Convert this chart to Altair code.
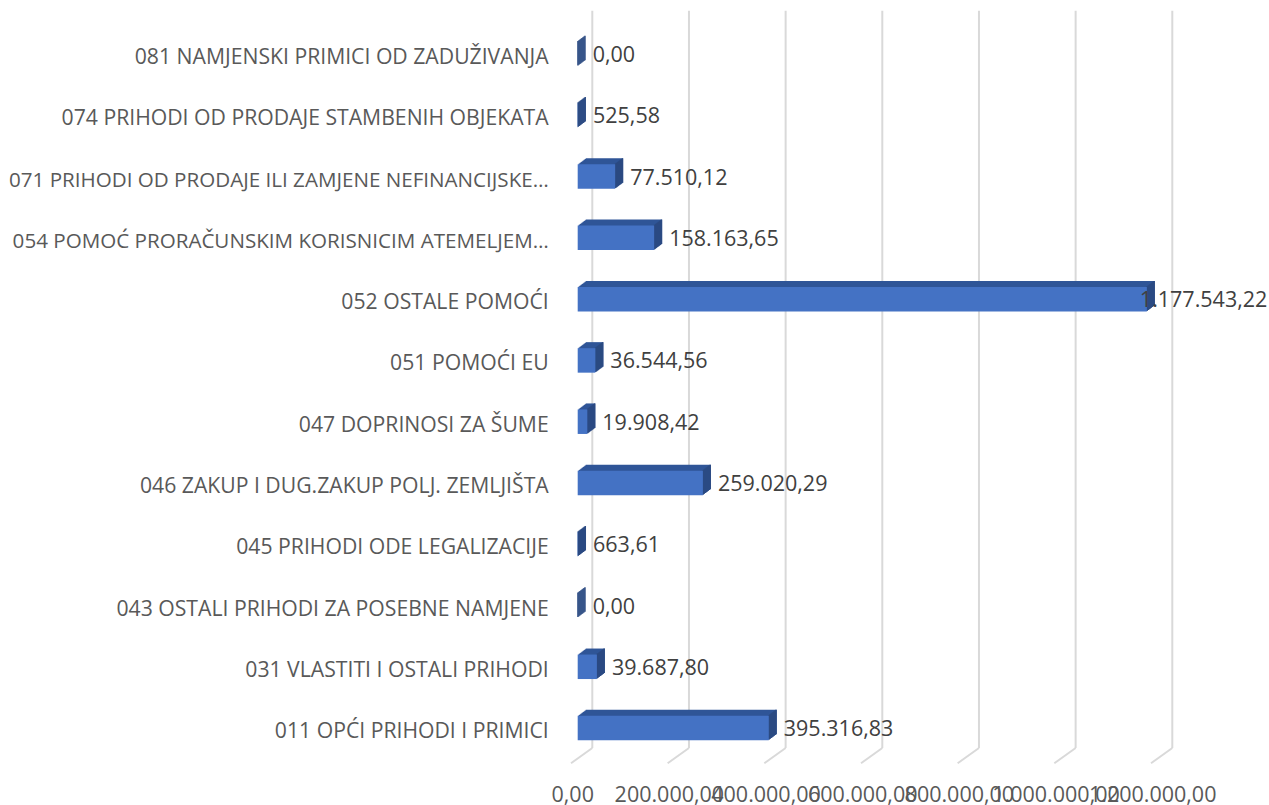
import altair as alt
import pandas as pd

categories = [
    "081 NAMJENSKI PRIMICI OD ZADUŽIVANJA",
    "074 PRIHODI OD PRODAJE STAMBENIH OBJEKATA",
    "071 PRIHODI OD PRODAJE ILI ZAMJENE NEFINANCIJSKE…",
    "054 POMOĆ PRORAČUNSKIM KORISNICIM ATEMELJEM…",
    "052 OSTALE POMOĆI",
    "051 POMOĆI EU",
    "047 DOPRINOSI ZA ŠUME",
    "046 ZAKUP I DUG.ZAKUP POLJ. ZEMLJIŠTA",
    "045 PRIHODI ODE LEGALIZACIJE",
    "043 OSTALI PRIHODI ZA POSEBNE NAMJENE",
    "031 VLASTITI I OSTALI PRIHODI",
    "011 OPĆI PRIHODI I PRIMICI",
]
values = [0.00, 525.58, 77510.12, 158163.65, 1177543.22, 36544.56,
          19908.42, 259020.29, 663.61, 0.00, 39687.80, 395316.83]

tick_values = [0, 200000, 400000, 600000, 800000, 1000000, 1200000]
tick_labels = ["0,00", "200.000,00", "400.000,00", "600.000,00",
               "800.000,00", "1.000.000,00", "1.200.000,00"]


def hr(v):
    s = f"{v:,.2f}"
    return s.replace(",", "_").replace(".", ",").replace("_", ".")


df = pd.DataFrame({"cat": categories, "value": values,
                   "label": [hr(v) for v in values]})
grid_df = pd.DataFrame({"t": tick_values, "lab": tick_labels})

FONT = "Open Sans"
FRONT = "#4472C4"
TOP = "#2F5597"
SIDE = "#2B4A82"
GRID = "#D9D9D9"

x_scale = alt.Scale(domain=[0, 1200000], nice=False, zero=True)
y_scale = alt.Scale(domain=categories, paddingInner=0.6, paddingOuter=0.3)

H = 735.3
layers = []

# back-wall gridlines
layers.append(
    alt.Chart(grid_df).mark_rule(color=GRID, strokeWidth=2, xOffset=14.6).encode(
        x=alt.X("t:Q", scale=x_scale, axis=None),
        y=alt.value(-12.7),
        y2=alt.value(H - 10.7),
    )
)
# floor slants
layers.append(
    alt.Chart(grid_df).mark_rule(color=GRID, strokeWidth=2, xOffset=14.6, x2Offset=-6.7).encode(
        x=alt.X("t:Q", scale=x_scale, axis=None),
        x2="t:Q",
        y=alt.value(H - 10.7),
        y2=alt.value(H + 4.5),
    )
)
# bottom tick labels
layers.append(
    alt.Chart(grid_df).mark_text(font=FONT, fontSize=21.5, color="#595959",
                                 baseline="middle", align="center", xOffset=-5).encode(
        x=alt.X("t:Q", scale=x_scale, axis=None),
        y=alt.value(H + 37.5),
        text="lab:N",
    )
)

DX = 8
DY = 0.75
# top faces
for i in range(1, DX + 1):
    layers.append(
        alt.Chart(df).mark_bar(color=TOP, xOffset=i, x2Offset=i, yOffset=-DY * i).encode(
            x=alt.X("value:Q", scale=x_scale, axis=None),
            x2=alt.datum(0),
            y=alt.Y("cat:N", scale=y_scale, axis=None),
        )
    )
# side faces
for i in range(1, DX + 1):
    layers.append(
        alt.Chart(df).mark_bar(color=SIDE, xOffset=i, x2Offset=i - 1.5, yOffset=-DY * i).encode(
            x=alt.X("value:Q", scale=x_scale, axis=None),
            x2="value:Q",
            y=alt.Y("cat:N", scale=y_scale, axis=None),
        )
    )
# front face
layers.append(
    alt.Chart(df).mark_bar(color=FRONT).encode(
        x=alt.X("value:Q", scale=x_scale, axis=None),
        x2=alt.datum(0),
        y=alt.Y("cat:N", scale=y_scale, axis=None),
    )
)
# category labels (regular)
layers.append(
    alt.Chart(df).transform_filter("length(datum.cat) <= 42").mark_text(
        font=FONT, fontSize=21.2, color="#595959",
        align="right", baseline="middle", dy=4).encode(
        x=alt.value(-29),
        y=alt.Y("cat:N", scale=y_scale, axis=None),
        text="cat:N",
    )
)
# category labels (long, truncated ones)
layers.append(
    alt.Chart(df).transform_filter("length(datum.cat) > 42").mark_text(
        font=FONT, fontSize=20.6, color="#595959",
        align="right", baseline="middle", dy=4).encode(
        x=alt.value(-29),
        y=alt.Y("cat:N", scale=y_scale, axis=None),
        text="cat:N",
    )
)
# value labels
layers.append(
    alt.Chart(df).transform_filter(alt.datum.value < 1000000).mark_text(
        font=FONT, fontSize=21.5, color="#404040", align="left", baseline="middle",
        dx=15, dy=2).encode(
        x=alt.X("value:Q", scale=x_scale, axis=None),
        y=alt.Y("cat:N", scale=y_scale, axis=None),
        text="label:N",
    )
)
layers.append(
    alt.Chart(df).transform_filter(alt.datum.value >= 1000000).mark_text(
        font=FONT, fontSize=21.5, color="#404040", align="left", baseline="middle",
        dx=-7, dy=2).encode(
        x=alt.X("value:Q", scale=x_scale, axis=None),
        y=alt.Y("cat:N", scale=y_scale, axis=None),
        text="label:N",
    )
)

chart = alt.layer(*layers).properties(
    width=580, height=H,
    autosize=alt.AutoSizeParams(type="none"),
    padding={"left": 577.7, "top": 23.4, "right": 111.3, "bottom": 46.3},
    background="white",
).configure_view(stroke=None)

chart.save("out.html", embed_options={"renderer": "svg", "actions": False})
